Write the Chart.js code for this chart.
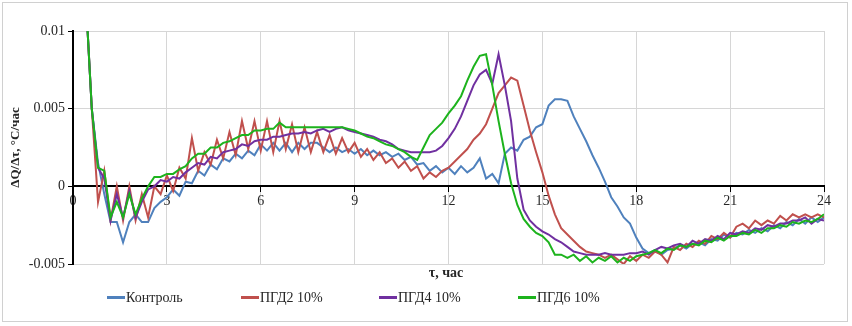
<!DOCTYPE html>
<html>
<head>
<meta charset="utf-8">
<script src="https://cdn.jsdelivr.net/npm/chart.js@4.4.1/dist/chart.umd.min.js"></script>
<style>
    html, body { margin: 0; padding: 0; background: #fff; }
    #wrap { position: relative; width: 852px; height: 326px; font-family: "Liberation Serif", "Times New Roman", serif; color: #262626; }
    #frame { position: absolute; left: 2px; top: 2px; width: 846px; height: 320px; border: 1px solid #d0d0d0; box-sizing: border-box; pointer-events: none; }
    #xTitle { position: absolute; left: 396px; width: 100px; top: 265px; text-align: center; font-weight: bold; font-size: 14px; }
    .leg { position: absolute; top: 289px; font-size: 14px; white-space: nowrap; line-height: 18px; }
    .leg i { display: inline-block; width: 18px; height: 3px; vertical-align: middle; margin-right: 1px; position: relative; top: -1px; }
</style>
</head>
<body>
<div id="wrap">
    <canvas id="chart" width="852" height="326"></canvas>
    <div id="frame"></div>
    <div id="xTitle">τ, час</div>
    <div id="legend"></div>
</div>
<script>
// Time grid, hours (0.4 ... 24.0 with 0.2 h step)
const hours = Array.from({ length: 119 }, (_, i) => +(0.4 + i * 0.2).toFixed(1));

const seriesNames = ['Контроль', 'ПГД2 10%', 'ПГД4 10%', 'ПГД6 10%'];
const seriesColors = ['#4F81BD', '#C0504D', '#7030A0', '#1DB31D'];
const legendLeft = [107, 241, 379, 518];

const xTicks = [0, 3, 6, 9, 12, 15, 18, 21, 24];
const yTicks = [0.01, 0.005, 0, -0.005];
const yTickLabels = ['0.01', '0.005', '0', '-0.005'];

// dQ/dt values
const kontrol = [
    0.0125, 0.0050, 0.0015, -0.0005, -0.0023, -0.0023, -0.0036, -0.0023, -0.0018, -0.0023,
    -0.0023, -0.0014, -0.0010, -0.0007, -0.0002, -0.0006, 0.0003, 0.0002, 0.0010, 0.0007,
    0.0014, 0.0011, 0.0018, 0.0016, 0.0021, 0.0018, 0.0023, 0.0020, 0.0027, 0.0023,
    0.0028, 0.0023, 0.0028, 0.0022, 0.0028, 0.0024, 0.0028, 0.0028, 0.0025, 0.0022,
    0.0025, 0.0022, 0.0024, 0.0021, 0.0024, 0.0020, 0.0023, 0.0020, 0.0022, 0.0019,
    0.0021, 0.0017, 0.0019, 0.0014, 0.0015, 0.0010, 0.0013, 0.0009, 0.0012, 0.0008,
    0.0013, 0.0009, 0.0012, 0.0018, 0.0005, 0.0008, 0.0002, 0.0021, 0.0025, 0.0023,
    0.0030, 0.0032, 0.0038, 0.0040, 0.0052, 0.0056, 0.0056, 0.0055, 0.0045, 0.0037,
    0.0029, 0.0020, 0.0012, 0.0003, -0.0007, -0.0013, -0.0020, -0.0024, -0.0033, -0.0040,
    -0.0043, -0.0041, -0.0044, -0.0041, -0.0040, -0.0038, -0.0040, -0.0037, -0.0036, -0.0038,
    -0.0034, -0.0035, -0.0031, -0.0033, -0.0030, -0.0031, -0.0028, -0.0030, -0.0027, -0.0029,
    -0.0025, -0.0027, -0.0023, -0.0025, -0.0021, -0.0024, -0.0020, -0.0023, -0.0020
];
const pgd2 = [
    0.0125, 0.0050, -0.0010, 0.0010, -0.0022, 0.0000, -0.0022, 0.0000, -0.0022, -0.0005,
    -0.0020, 0.0000, -0.0005, 0.0007, -0.0003, 0.0012, 0.0005, 0.0031, 0.0010, 0.0022,
    0.0014, 0.0030, 0.0018, 0.0035, 0.0020, 0.0042, 0.0024, 0.0042, 0.0023, 0.0042,
    0.0022, 0.0042, 0.0024, 0.0040, 0.0022, 0.0038, 0.0022, 0.0035, 0.0022, 0.0033,
    0.0021, 0.0031, 0.0022, 0.0028, 0.0019, 0.0024, 0.0017, 0.0022, 0.0015, 0.0018,
    0.0012, 0.0016, 0.0010, 0.0013, 0.0005, 0.0009, 0.0006, 0.0010, 0.0012, 0.0016,
    0.0020, 0.0024, 0.0030, 0.0034, 0.0040, 0.0050, 0.0060, 0.0065, 0.0070, 0.0068,
    0.0052, 0.0036, 0.0022, 0.0009, -0.0006, -0.0018, -0.0027, -0.0031, -0.0035, -0.0039,
    -0.0042, -0.0043, -0.0044, -0.0046, -0.0044, -0.0047, -0.0050, -0.0045, -0.0048, -0.0044,
    -0.0046, -0.0042, -0.0044, -0.0049, -0.0039, -0.0041, -0.0037, -0.0039, -0.0035, -0.0037,
    -0.0032, -0.0034, -0.0030, -0.0033, -0.0026, -0.0024, -0.0027, -0.0022, -0.0025, -0.0022,
    -0.0024, -0.0019, -0.0022, -0.0018, -0.0020, -0.0018, -0.0020, -0.0018, -0.0020
];
const pgd4 = [
    0.0125, 0.0050, 0.0012, 0.0005, -0.0022, -0.0005, -0.0020, -0.0003, -0.0020, -0.0010,
    -0.0002, 0.0000, 0.0004, 0.0003, 0.0006, 0.0005, 0.0009, 0.0012, 0.0015, 0.0014,
    0.0019, 0.0018, 0.0022, 0.0023, 0.0024, 0.0027, 0.0026, 0.0029, 0.0030, 0.0030,
    0.0032, 0.0032, 0.0033, 0.0034, 0.0034, 0.0035, 0.0034, 0.0036, 0.0037, 0.0035,
    0.0037, 0.0038, 0.0036, 0.0035, 0.0034, 0.0033, 0.0032, 0.0030, 0.0029, 0.0027,
    0.0024, 0.0023, 0.0022, 0.0022, 0.0022, 0.0022, 0.0023, 0.0026, 0.0031, 0.0037,
    0.0045, 0.0055, 0.0065, 0.0072, 0.0075, 0.0066, 0.0085, 0.0065, 0.0042, 0.0005,
    -0.0015, -0.0022, -0.0026, -0.0029, -0.0031, -0.0034, -0.0036, -0.0039, -0.0042, -0.0043,
    -0.0044, -0.0044, -0.0044, -0.0043, -0.0044, -0.0044, -0.0044, -0.0043, -0.0043, -0.0042,
    -0.0044, -0.0041, -0.0039, -0.0040, -0.0038, -0.0037, -0.0039, -0.0035, -0.0037, -0.0034,
    -0.0035, -0.0032, -0.0034, -0.0030, -0.0031, -0.0029, -0.0030, -0.0027, -0.0028, -0.0025,
    -0.0026, -0.0024, -0.0024, -0.0022, -0.0022, -0.0020, -0.0024, -0.0021, -0.0022
];
const pgd6 = [
    0.0125, 0.0050, 0.0012, 0.0010, -0.0020, -0.0010, -0.0020, -0.0005, -0.0018, -0.0008,
    0.0000, 0.0006, 0.0006, 0.0008, 0.0008, 0.0011, 0.0013, 0.0018, 0.0021, 0.0021,
    0.0025, 0.0025, 0.0028, 0.0029, 0.0031, 0.0033, 0.0033, 0.0036, 0.0036, 0.0037,
    0.0037, 0.0041, 0.0038, 0.0038, 0.0038, 0.0038, 0.0038, 0.0038, 0.0038, 0.0038,
    0.0038, 0.0038, 0.0037, 0.0036, 0.0034, 0.0032, 0.0031, 0.0029, 0.0027, 0.0026,
    0.0024, 0.0022, 0.0019, 0.0017, 0.0025, 0.0033, 0.0037, 0.0041, 0.0047, 0.0052,
    0.0058, 0.0068, 0.0077, 0.0084, 0.0085, 0.0065, 0.0042, 0.0021, 0.0002, -0.0012,
    -0.0021, -0.0026, -0.0030, -0.0032, -0.0036, -0.0044, -0.0044, -0.0046, -0.0044, -0.0048,
    -0.0045, -0.0049, -0.0046, -0.0048, -0.0045, -0.0049, -0.0046, -0.0048, -0.0045, -0.0044,
    -0.0043, -0.0041, -0.0043, -0.0040, -0.0041, -0.0038, -0.0039, -0.0037, -0.0038, -0.0035,
    -0.0036, -0.0033, -0.0035, -0.0032, -0.0032, -0.0030, -0.0031, -0.0028, -0.0030, -0.0027,
    -0.0027, -0.0025, -0.0026, -0.0023, -0.0024, -0.0022, -0.0023, -0.0021, -0.0018
];

const seriesValues = [kontrol, pgd2, pgd4, pgd6];

(function() {
    const FONT = '"Liberation Serif", "Times New Roman", serif';
    const TEXT = '#262626';

    // HTML legend with fixed item positions
    const legend = document.getElementById('legend');
    seriesNames.forEach((name, i) => {
        const item = document.createElement('div');
        item.className = 'leg';
        item.style.left = legendLeft[i] + 'px';
        item.innerHTML = `<i style="background:${seriesColors[i]}"></i>${name}`;
        legend.appendChild(item);
    });

    const datasets = seriesNames.map((name, i) => ({
        label: name,
        data: hours.map((h, k) => ({ x: h, y: seriesValues[i][k] })),
        borderColor: seriesColors[i],
        borderWidth: 2,
        pointRadius: 0,
        tension: 0,
        fill: false,
        order: seriesNames.length - 1 - i // green on top
    }));

    const ctx = document.getElementById('chart').getContext('2d');
    new Chart(ctx, {
        type: 'line',
        data: { datasets: datasets },
        options: {
            responsive: false,
            animation: false,
            events: [],
            layout: { padding: { left: 8, right: 28, top: 31, bottom: 62 } },
            plugins: {
                legend: { display: false },
                tooltip: { enabled: false }
            },
            scales: {
                x: {
                    type: 'linear',
                    position: { y: 0 },
                    min: 0,
                    max: 24,
                    afterBuildTicks: axis => { axis.ticks = xTicks.map(v => ({ value: v })); },
                    ticks: {
                        color: TEXT,
                        font: { family: FONT, size: 14 },
                        padding: 2,
                        maxRotation: 0,
                        autoSkip: false
                    },
                    grid: { color: '#d6d6d6', lineWidth: 1, tickColor: '#000', tickLength: 5 },
                    border: { color: '#000', width: 2 }
                },
                y: {
                    min: -0.005,
                    max: 0.01,
                    afterBuildTicks: axis => { axis.ticks = yTicks.map(v => ({ value: v })); },
                    afterFit: scale => { scale.width = 65; },
                    ticks: {
                        color: TEXT,
                        font: { family: FONT, size: 14 },
                        padding: 3,
                        callback: v => {
                            const k = yTicks.findIndex(t => Math.abs(t - v) < 1e-9);
                            return k >= 0 ? yTickLabels[k] : '';
                        }
                    },
                    grid: { color: '#d6d6d6', lineWidth: 1, tickColor: '#000', tickLength: 5 },
                    border: { color: '#000', width: 2 },
                    title: {
                        display: true,
                        text: 'ΔQ/Δτ, °C/час',
                        color: TEXT,
                        font: { family: FONT, size: 13, weight: 'bold' },
                        padding: { top: 0, bottom: 2 }
                    }
                }
            }
        }
    });
})();
</script>
</body>
</html>
